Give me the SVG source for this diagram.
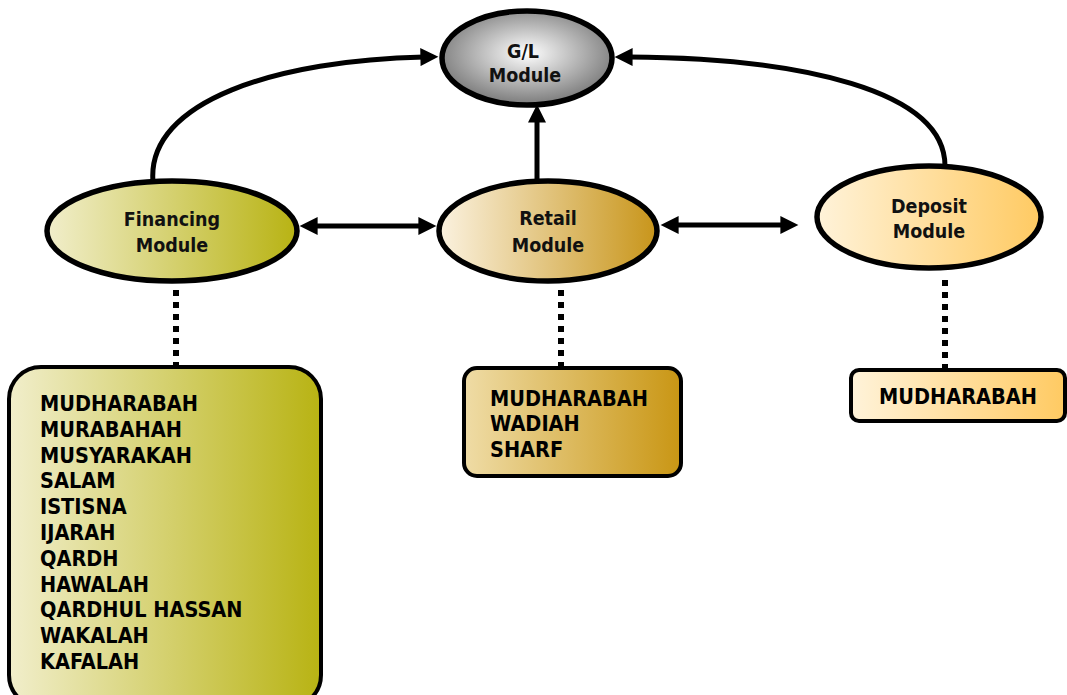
<svg xmlns="http://www.w3.org/2000/svg" width="1067" height="695" viewBox="0 0 1067 695">
<style>
.node{stroke:#000;stroke-width:5.5}
.box{stroke:#000;stroke-width:4}
.lbl{font-family:"DejaVu Sans Condensed","DejaVu Sans",sans-serif;font-weight:bold;font-size:19.5px;fill:#111;text-anchor:middle}
.lst{font-family:"DejaVu Sans Condensed","DejaVu Sans",sans-serif;font-weight:bold;font-size:21.5px;fill:#000}
.con{fill:none;stroke:#000;stroke-width:5}
.dot{fill:none;stroke:#000;stroke-width:6;stroke-dasharray:6 6}
</style>
<defs>
<radialGradient id="gGL" cx="50%" cy="45%" r="55%">
<stop offset="0" stop-color="#ffffff"/><stop offset="1" stop-color="#7a7a7a"/>
</radialGradient>
<linearGradient id="gFin" x1="0" x2="1" y1="0" y2="0">
<stop offset="0" stop-color="#f1eecb"/><stop offset="1" stop-color="#b8b313"/>
</linearGradient>
<linearGradient id="gRet" x1="0" x2="1" y1="0" y2="0">
<stop offset="0" stop-color="#fbf2e0"/><stop offset="1" stop-color="#c8951a"/>
</linearGradient>
<linearGradient id="gDep" x1="0" x2="1" y1="0" y2="0">
<stop offset="0" stop-color="#fff3da"/><stop offset="1" stop-color="#ffca62"/>
</linearGradient>
<linearGradient id="gRetBox" x1="0" x2="1" y1="0" y2="0">
<stop offset="0" stop-color="#efdca6"/><stop offset="1" stop-color="#c99614"/>
</linearGradient>
<marker id="ah" viewBox="0 0 10 10" refX="2" refY="5" markerWidth="20" markerHeight="18" markerUnits="userSpaceOnUse" orient="auto-start-reverse">
<path d="M0,0 L10,5 L0,10 Z" fill="#000"/>
</marker>
</defs>

<g id="connectors">
<path class="con" d="M153,182 C146,100 280,60 424,57" marker-end="url(#ah)"/>
<path class="con" d="M945,166 C945,90 800,58 629,57" marker-end="url(#ah)"/>
<path class="con" d="M537,190 L537,119" marker-end="url(#ah)"/>
<path class="con" d="M314,226 L422,226" marker-start="url(#ah)" marker-end="url(#ah)"/>
<path class="con" d="M675,225 L784,225" marker-start="url(#ah)" marker-end="url(#ah)"/>
<path class="dot" d="M176,290 L176,366"/>
<path class="dot" d="M561,290 L561,368"/>
<path class="dot" d="M945,280 L945,368"/>
</g>

<g id="gl">
<ellipse class="node" cx="527" cy="58" rx="85" ry="47" fill="url(#gGL)"/>
<text class="lbl" x="523" y="58">G/L</text>
<text class="lbl" x="525" y="82">Module</text>
</g>

<g id="financing">
<ellipse class="node" cx="172" cy="231" rx="125" ry="50" fill="url(#gFin)"/>
<text class="lbl" x="172" y="226">Financing</text>
<text class="lbl" x="172" y="252">Module</text>
</g>

<g id="retail">
<ellipse class="node" cx="548" cy="231" rx="109" ry="50" fill="url(#gRet)"/>
<text class="lbl" x="548" y="225">Retail</text>
<text class="lbl" x="548" y="252">Module</text>
</g>

<g id="deposit">
<ellipse class="node" cx="929" cy="217" rx="112" ry="51" fill="url(#gDep)"/>
<text class="lbl" x="929" y="213">Deposit</text>
<text class="lbl" x="929" y="238">Module</text>
</g>

<g id="financing-list">
<rect class="box" x="9" y="367" width="312" height="340" rx="32" fill="url(#gFin)"/>
<text class="lst" x="40" y="411">MUDHARABAH</text>
<text class="lst" x="40" y="437">MURABAHAH</text>
<text class="lst" x="40" y="463">MUSYARAKAH</text>
<text class="lst" x="40" y="488">SALAM</text>
<text class="lst" x="40" y="514">ISTISNA</text>
<text class="lst" x="40" y="540">IJARAH</text>
<text class="lst" x="40" y="566">QARDH</text>
<text class="lst" x="40" y="592">HAWALAH</text>
<text class="lst" x="40" y="617">QARDHUL HASSAN</text>
<text class="lst" x="40" y="643">WAKALAH</text>
<text class="lst" x="40" y="669">KAFALAH</text>
</g>

<g id="retail-list">
<rect class="box" x="464" y="368" width="217" height="108" rx="13" fill="url(#gRetBox)"/>
<text class="lst" x="490" y="406">MUDHARABAH</text>
<text class="lst" x="490" y="431">WADIAH</text>
<text class="lst" x="490" y="457">SHARF</text>
</g>

<g id="deposit-list">
<rect class="box" x="851" y="370" width="214" height="51" rx="8" fill="url(#gDep)"/>
<text class="lst" x="879" y="404">MUDHARABAH</text>
</g>
</svg>
